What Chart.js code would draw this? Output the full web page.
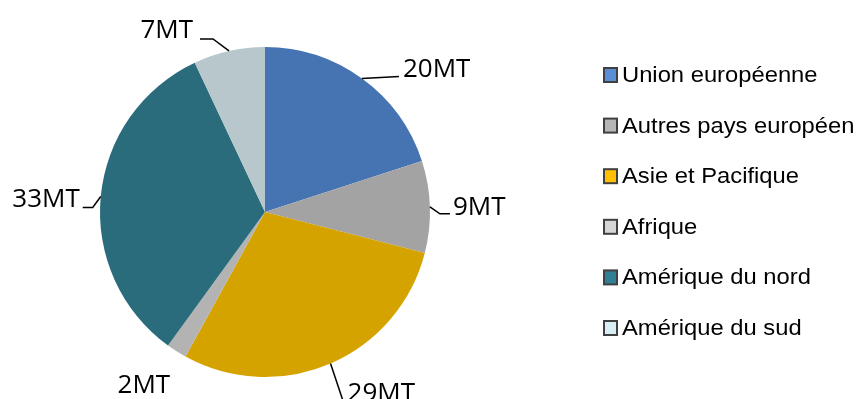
<!DOCTYPE html>
<html><head><meta charset="utf-8">
<script src="https://cdn.jsdelivr.net/npm/chart.js@4/dist/chart.umd.min.js"></script>
<style>html,body{margin:0;padding:0;background:#fff;}#wrap{width:858px;height:399px;}</style>
</head><body><div id="wrap"><canvas id="c" width="858" height="399"></canvas></div>
<script>
const categories = ['Union européenne','Autres pays européen','Asie et Pacifique','Afrique','Amérique du nord','Amérique du sud'];
const values = [20, 9, 29, 2, 33, 7];
const valueLabels = ['20MT','9MT','29MT','2MT','33MT','7MT'];
const sliceColors = ['#4674b3','#a3a3a3','#d5a300','#b3b3b3','#2a6c7c','#b8c7cc'];
const legendColors = ['#5a8fd6','#b6b6b6','#ffc000','#d6d6d6','#2f7f95','#d8eef5'];

// label placement relative to the arc mid-point (layout only)
const labelLayout = [
  {pts:[[37,-2]], tx:41, ty:-2, align:'left'},
  {pts:[[10,7],[20,7]], tx:23, ty:8, align:'left'},
  {pts:[[12,36]], tx:17, ty:38, align:'left'},
  {pts:[], tx:-59, ty:42, align:'left'},
  {pts:[[-8,11],[-18,11]], tx:-21, ty:11, align:'right'},
  {pts:[[-16,-12],[-29,-12]], tx:-36, ty:-13, align:'right'}
];

const LABEL_FONT = '26px "Open Sans"';
const LEGEND_FONT = '22px "Liberation Sans"';

const labelPlugin = {
  id: 'valueLabels',
  afterDatasetsDraw(chart) {
    const ctx = chart.ctx;
    const meta = chart.getDatasetMeta(0);
    ctx.save();
    meta.data.forEach((arc, i) => {
      const p = arc.getProps(['x','y','startAngle','endAngle','outerRadius'], true);
      const mid = (p.startAngle + p.endAngle) / 2;
      const ax = p.x + Math.cos(mid) * p.outerRadius;
      const ay = p.y + Math.sin(mid) * p.outerRadius;
      const L = labelLayout[i];
      if (L.pts.length) {
        ctx.beginPath();
        ctx.moveTo(ax, ay);
        L.pts.forEach(q => ctx.lineTo(ax + q[0], ay + q[1]));
        ctx.strokeStyle = '#000';
        ctx.lineWidth = 1.5;
        ctx.stroke();
      }
      ctx.font = LABEL_FONT;
      ctx.fillStyle = '#000';
      ctx.textAlign = L.align;
      ctx.textBaseline = 'alphabetic';
      ctx.fillText(valueLabels[i], ax + L.tx, ay + L.ty);
    });
    ctx.restore();
  },
  afterDraw(chart) {
    const ctx = chart.ctx;
    ctx.save();
    categories.forEach((name, i) => {
      const yc = 75 + i * 50.6;
      ctx.fillStyle = legendColors[i];
      ctx.fillRect(604, yc - 7, 13, 14);
      ctx.strokeStyle = '#404040';
      ctx.lineWidth = 2;
      ctx.strokeRect(604, yc - 7, 13, 14);
      ctx.save();
      ctx.translate(622, yc);
      ctx.scale(1.08, 1);
      ctx.font = LEGEND_FONT;
      ctx.fillStyle = '#000';
      ctx.textAlign = 'left';
      ctx.textBaseline = 'middle';
      ctx.fillText(name, 0, 1);
      ctx.restore();
    });
    ctx.restore();
  }
};

function build() {
  new Chart(document.getElementById('c'), {
    type: 'pie',
    data: {
      labels: categories,
      datasets: [{
        data: values,
        backgroundColor: sliceColors,
        borderWidth: 0,
        hoverBorderWidth: 0,
        hoverOffset: 0,
        offset: 0
      }]
    },
    options: {
      responsive: false,
      animation: false,
      devicePixelRatio: 1,
      layout: { padding: { left: 100, right: 428, top: 47, bottom: 22 } },
      plugins: { legend: { display: false }, tooltip: { enabled: false } }
    },
    plugins: [labelPlugin]
  });
}

Promise.all([
  document.fonts.load(LABEL_FONT, '20MT'),
  document.fonts.load(LEGEND_FONT, 'Union')
]).then(build, build);
</script>
</body></html>
